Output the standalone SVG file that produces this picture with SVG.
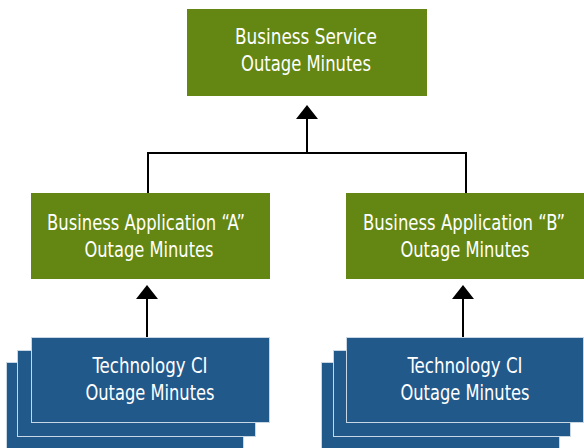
<svg xmlns="http://www.w3.org/2000/svg" width="584" height="448" viewBox="0 0 584 448">
<style>
.g{fill:#638712}
.b{fill:#22598b;stroke:#c9d6e3;stroke-width:1}
.t{font-family:"DejaVu Sans Condensed","Liberation Sans",sans-serif;font-size:21.5px;fill:#fff;text-anchor:middle}
.c{stroke:#000;stroke-width:2;fill:none}
</style>
<g id="connectors">
<path class="c" d="M148,193 V153 H466 V193"/>
<path class="c" d="M307,153 V119"/>
<polygon points="296,119 307,105 318,119" fill="#000"/>
<path class="c" d="M147,337 V299"/>
<polygon points="136,299 147,285 158,299" fill="#000"/>
<path class="c" d="M463,337 V299"/>
<polygon points="452,299 463,285 474,299" fill="#000"/>
</g>
<g id="service">
<rect class="g" x="187" y="9" width="240" height="87"/>
<text class="t" x="306" y="44" textLength="142" lengthAdjust="spacingAndGlyphs">Business Service</text>
<text class="t" x="306" y="71" textLength="130" lengthAdjust="spacingAndGlyphs">Outage Minutes</text>
</g>
<g id="appA">
<rect class="g" x="31" y="193" width="239" height="86"/>
<text class="t" x="146" y="230" textLength="198" lengthAdjust="spacingAndGlyphs">Business Application “A”</text>
<text class="t" x="149" y="257" textLength="129" lengthAdjust="spacingAndGlyphs">Outage Minutes</text>
</g>
<g id="appB">
<rect class="g" x="346" y="193" width="238" height="86"/>
<text class="t" x="464" y="230" textLength="202" lengthAdjust="spacingAndGlyphs">Business Application “B”</text>
<text class="t" x="465" y="257" textLength="129" lengthAdjust="spacingAndGlyphs">Outage Minutes</text>
</g>
<g id="ciA">
<rect class="b" x="6.5" y="362.5" width="237" height="86"/>
<rect class="b" x="17.5" y="350.5" width="238" height="86"/>
<rect class="b" x="31.5" y="337.5" width="238" height="85"/>
<text class="t" x="150" y="373" textLength="115" lengthAdjust="spacingAndGlyphs">Technology CI</text>
<text class="t" x="150" y="400" textLength="129" lengthAdjust="spacingAndGlyphs">Outage Minutes</text>
</g>
<g id="ciB">
<rect class="b" x="321.5" y="362.5" width="238" height="86"/>
<rect class="b" x="333.5" y="350.5" width="237" height="86"/>
<rect class="b" x="346.5" y="337.5" width="237" height="85"/>
<text class="t" x="465" y="373" textLength="115" lengthAdjust="spacingAndGlyphs">Technology CI</text>
<text class="t" x="465" y="400" textLength="129" lengthAdjust="spacingAndGlyphs">Outage Minutes</text>
</g>
</svg>
